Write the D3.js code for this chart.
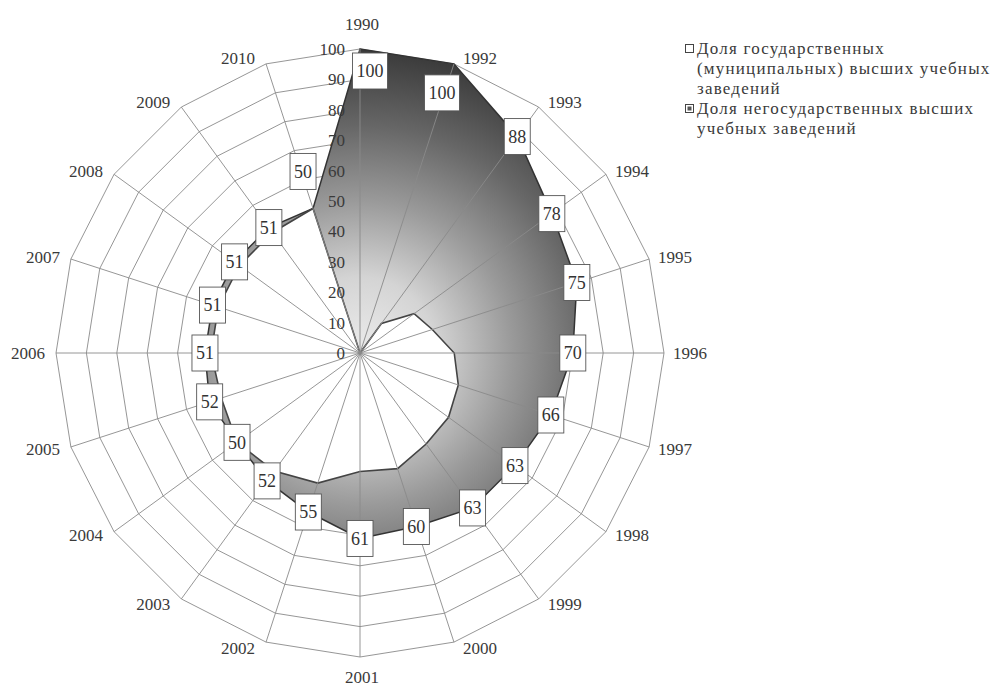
<!DOCTYPE html>
<html><head><meta charset="utf-8">
<script src="https://cdn.jsdelivr.net/npm/d3@7/dist/d3.min.js"></script>
<style>
html,body{margin:0;padding:0;background:#fff;}
</style></head>
<body><svg id="chart" width="998" height="688"></svg>
<script>
const years = ["1990","1992","1993","1994","1995","1996","1997","1998","1999","2000",
               "2001","2002","2003","2004","2005","2006","2007","2008","2009","2010"];
const stateShare    = [100,100,88,78,75,70,66,63,63,60,61,55,52,50,52,51,51,51,51,50];
const nonStateShare = [0,0,12,22,25,31,34,36,37,40,39,45,48,50,48,49,49,49,49,50];
const radialTicks = [0,10,20,30,40,50,60,70,80,90,100];
const legendItems = [
  {lines:["Доля государственных","(муниципальных) высших учебных","заведений"], kind:"state"},
  {lines:["Доля негосударственных высших","учебных заведений"], kind:"nonstate"}
];
// label nudges (layout only, px)
const labelNudge = {"1990":[10,22],"1992":[-12,29],"2010":[-10,-37]};
const FONT = "'Liberation Serif','DejaVu Serif','Times New Roman',serif";

const svg = d3.select("#chart");
svg.append("rect").attr("width",998).attr("height",688).attr("fill","#fff");
const cx = 360, cy = 353, R = 304;
const r = d3.scaleLinear().domain([0,100]).range([0,R]);
const n = years.length;
const ang = d3.scaleLinear().domain([0,n]).range([0,2*Math.PI]);
const g = svg.append("g").attr("transform",`translate(${cx},${cy})`);

const defs = svg.append("defs");
const grad = defs.append("radialGradient").attr("id","dark")
  .attr("gradientUnits","userSpaceOnUse").attr("cx",0).attr("cy",0).attr("r",R);
[[0,"#ececec"],[0.25,"#d4d4d4"],[0.5,"#9a9a9a"],[0.75,"#666"],[1,"#3a3a3a"]]
  .forEach(([o,c])=>grad.append("stop").attr("offset",o).attr("stop-color",c));

const radial = d3.lineRadial().angle((d,i)=>ang(i)).radius(d=>r(d)).curve(d3.curveLinearClosed);

// rings (behind the series)
radialTicks.filter(t=>t>0).forEach(t=>{
  g.append("path").attr("d",radial(years.map(()=>t)))
   .attr("fill","none").attr("stroke","#8a8a8a").attr("stroke-width",0.9);
});

// series
g.append("path").attr("d",radial(stateShare))
  .attr("fill","url(#dark)").attr("stroke","#333").attr("stroke-width",1.5);
g.append("path").attr("d",radial(nonStateShare))
  .attr("fill","#fff").attr("stroke","#444").attr("stroke-width",1.6);

// spokes (on top)
years.forEach((y,i)=>{
  const a = ang(i);
  g.append("line").attr("x1",0).attr("y1",0)
   .attr("x2",r(100)*Math.sin(a)).attr("y2",-r(100)*Math.cos(a))
   .attr("stroke","#8a8a8a").attr("stroke-width",0.9);
});

// radial value labels
radialTicks.forEach(t=>{
  g.append("text").attr("x",-15).attr("y",-r(t)).attr("dy","0.35em")
   .attr("font-family",FONT)
   .attr("text-anchor","end").attr("font-size",17).attr("fill","#3a3a3a").text(t);
});

// category labels
years.forEach((y,i)=>{
  const a = ang(i), s = Math.sin(a), c = Math.cos(a);
  const vx = r(100)*s, vy = -r(100)*c;
  let x, yy, anchor;
  if (Math.abs(s) < 0.05) { anchor="middle"; x=vx+2; yy = vy - (c>0?25:-20); }
  else { anchor = s>0?"start":"end"; x = vx + (s>0?9:-11); yy = vy - 6*c; }
  g.append("text").attr("x",x).attr("y",yy).attr("dy","0.35em")
   .attr("font-family",FONT)
   .attr("text-anchor",anchor).attr("font-size",17).attr("fill","#3a3a3a").text(y);
});

// data labels
stateShare.forEach((v,i)=>{
  const a = ang(i);
  const nd = labelNudge[years[i]] || [0,0];
  const x = r(v)*Math.sin(a) + nd[0], y = -r(v)*Math.cos(a) + nd[1];
  const lg = g.append("g").attr("transform",`translate(${x},${y})`);
  const rect = lg.append("rect");
  const t = lg.append("text").attr("text-anchor","middle").attr("dy","0.35em")
    .attr("font-family",FONT)
    .attr("font-size",18).attr("fill","#333").text(v);
  const w = t.node().getComputedTextLength() + 8;
  rect.attr("x",-w/2).attr("y",-18).attr("width",w).attr("height",36)
    .attr("fill","#fff").attr("stroke","#555").attr("stroke-width",0.9);
});

// legend
const lg = svg.append("g");
let baseY = 54;
legendItems.forEach((it,k)=>{
  const my = baseY - 5;
  lg.append("rect").attr("x",685.5).attr("y",my-4.5).attr("width",8).attr("height",8)
    .attr("fill","#fff").attr("stroke","#444").attr("stroke-width",1);
  if (it.kind==="nonstate") {
    lg.append("rect").attr("x",687.5).attr("y",my-2.5).attr("width",4).attr("height",4)
      .attr("fill","#555");
  }
  it.lines.forEach((ln,j)=>{
    lg.append("text").attr("x",697).attr("y",baseY + j*20)
      .attr("font-family",FONT)
      .attr("font-size",17).attr("letter-spacing",1.2).attr("fill","#3a3a3a").text(ln);
  });
  baseY += it.lines.length*20;
});
</script></body></html>
